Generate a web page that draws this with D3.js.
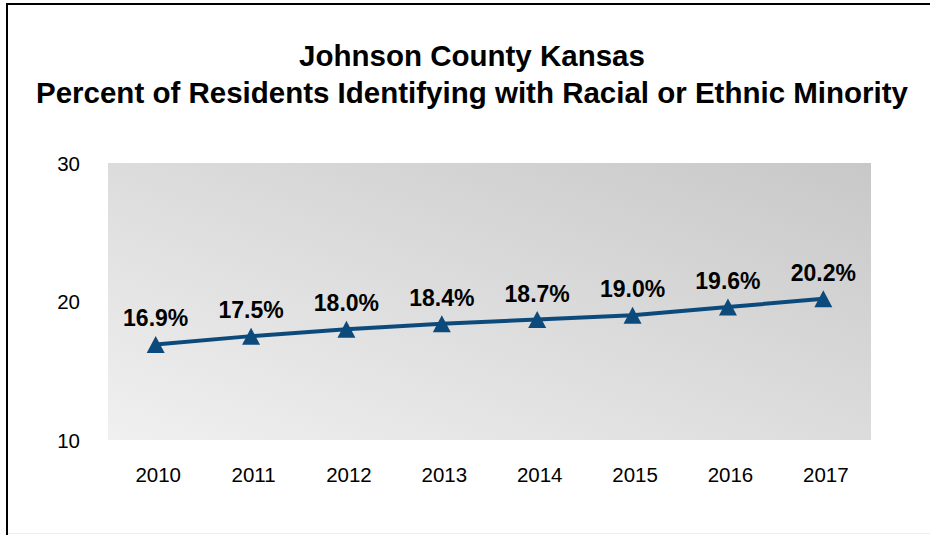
<!DOCTYPE html>
<html>
<head>
<meta charset="utf-8">
<script src="https://cdn.jsdelivr.net/npm/d3@7/dist/d3.min.js"></script>
<style>
  html, body { margin: 0; padding: 0; background: #fff; }
  svg { display: block; font-family: "Liberation Sans", Arial, sans-serif; }
</style>
</head>
<body>
<svg id="chart" width="930" height="535"></svg>
<script>
// Data
const years = ["2010", "2011", "2012", "2013", "2014", "2015", "2016", "2017"];
const minorityPct = [16.9, 17.5, 18.0, 18.4, 18.7, 19.0, 19.6, 20.2];
const yTicks = [10, 20, 30];
const titleLines = ["Johnson County Kansas", "Percent of Residents Identifying with Racial or Ethnic Minority"];

const svg = d3.select("#chart");
const W = 930, H = 535;
const plot = { left: 108, right: 871, top: 163, bottom: 440 };

// Frame lines
svg.append("line").attr("x1", 7).attr("x2", 7).attr("y1", 3).attr("y2", H)
  .attr("stroke", "#000").attr("stroke-width", 2);
svg.append("line").attr("x1", 6).attr("x2", W).attr("y1", 4).attr("y2", 4)
  .attr("stroke", "#000").attr("stroke-width", 2);
svg.append("line").attr("x1", 8).attr("x2", W).attr("y1", 533.5).attr("y2", 533.5)
  .attr("stroke", "#ececec").attr("stroke-width", 1);

// Plot background gradient
const defs = svg.append("defs");
const grad = defs.append("linearGradient").attr("id", "plotBg")
  .attr("x1", 0).attr("y1", 1).attr("x2", 1).attr("y2", 0);
grad.append("stop").attr("offset", "0%").attr("stop-color", "#f0f0f0");
grad.append("stop").attr("offset", "100%").attr("stop-color", "#c8c8c8");

svg.append("rect")
  .attr("x", plot.left).attr("y", plot.top)
  .attr("width", plot.right - plot.left).attr("height", plot.bottom - plot.top)
  .attr("fill", "url(#plotBg)");

// Scales
const x = d3.scalePoint().domain(years).range([plot.left, plot.right]).padding(0.5);
const y = d3.scaleLinear().domain([10, 30]).range([plot.bottom, plot.top]);

// Title
svg.append("g").selectAll("text").data(titleLines).join("text")
  .attr("x", 472).attr("y", (d, i) => 66 + i * 37)
  .attr("text-anchor", "middle")
  .attr("font-size", 29.5).attr("font-weight", "bold").attr("fill", "#000")
  .text(d => d);

// Y axis (labels only)
const yAxis = d3.axisLeft(y).tickValues(yTicks).tickSize(0).tickPadding(0).tickFormat(d3.format("d"));
const gy = svg.append("g").attr("transform", "translate(80,0)").call(yAxis);
gy.select(".domain").remove();
gy.selectAll("text").attr("font-size", 20.5).attr("fill", "#000")
  .attr("font-family", "'Liberation Sans', Arial, sans-serif").attr("dy", "0.35em");

// X axis (labels only)
const xAxis = d3.axisBottom(x).tickSize(0).tickPadding(0);
const gx = svg.append("g").attr("transform", "translate(0,482)").call(xAxis);
gx.select(".domain").remove();
gx.selectAll("text").attr("font-size", 20.5).attr("fill", "#000")
  .attr("font-family", "'Liberation Sans', Arial, sans-serif").attr("dy", 0)
  .attr("dx", 2);

// Series line
const pts = years.map((yr, i) => ({ yr, v: minorityPct[i] }));
const lineColor = "#0d4a7c";
svg.append("path").datum(pts)
  .attr("fill", "none").attr("stroke", lineColor).attr("stroke-width", 4)
  .attr("d", d3.line().x(d => x(d.yr)).y(d => y(d.v)));

// Triangle markers
const tw = 18, th = 15;
svg.append("g").selectAll("path").data(pts).join("path")
  .attr("fill", lineColor)
  .attr("transform", d => `translate(${x(d.yr)},${y(d.v)})`)
  .attr("d", `M0,${-th / 2 - 1}L${tw / 2},${th / 2 + 1}L${-tw / 2},${th / 2 + 1}Z`);

// Value labels
svg.append("g").selectAll("text").data(pts).join("text")
  .attr("x", d => x(d.yr)).attr("y", d => y(d.v) - 18)
  .attr("text-anchor", "middle")
  .attr("font-size", 23).attr("font-weight", "bold").attr("fill", "#000")
  .text(d => d.v.toFixed(1) + "%");
</script>
</body>
</html>
